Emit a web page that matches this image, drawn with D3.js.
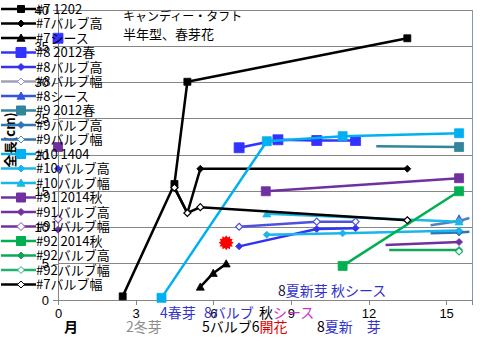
<!DOCTYPE html>
<html><head><meta charset="utf-8">
<script src="https://cdn.jsdelivr.net/npm/d3@7"></script>
<style>body{margin:0;background:#fff}svg{display:block}text{font-family:"Noto Sans CJK JP","Noto Sans",sans-serif}</style>
</head><body><svg id="c" width="491" height="341"></svg>
<script>
// ---- data ----
const xTicks = [0,3,6,9,12,15];
const yTicks = [0,5,10,15,20,25,30,35,40];
const seriesNames = ["#7 1202","#7バルブ高","#7シース","#8 2012春","#8バルブ高","#8バルブ幅","#8シース","#9 2012春","#9バルブ高","#9バルブ幅","#10 1404","#10バルブ高","#10バルブ幅","#91 2014秋","#91バルブ高","#91バルブ幅","#92 2014秋","#92バルブ高","#92バルブ幅","#7バルブ幅"];
const seriesColors = ["#000000","#000000","#000000","#3333FF","#3333EE","#5050E0","#3355DD","#31859C","#2E75B6","#4F81BD","#00B0F0","#19B5EC","#19B8E8","#7030A0","#7030A0","#8050B0","#00B050","#10A858","#20B070","#000000"];
const legendLineColors = ["#000000","#000000","#000000","#3333FF","#3333EE","#A0A0B8","#3355DD","#31859C","#2E75B6","#2E75B6","#00B0F0","#19B5EC","#19B8E8","#7030A0","#7030A0","#7030A0","#00B050","#10A858","#20B070","#000000"];
const seriesMarkers = ["square","diamond","triangle","square","diamond","hollow","triangle","square","diamond","hollow","square","diamond","triangle","square","diamond","hollow","square","diamond","hollow","hollow"];
const markerSizes = [7,7,8,10,7,7,8,9,7,7,9,7,8,9,7,8,9,7,7,7];
// points: [month, length(cm), showMarker]; null = gap
const s7_1202 = [[2.5,0.5],[4.5,16],[5,30.1],[13.5,36.1]];
const s7_bulbH = [[4.5,15.5],[5,12],[5.5,18.1],[13.5,18.1]];
const s7_sheath = [[5.5,1.8],[6,3.7],[6.5,5]];
const s8_2012 = [[0,36.1],null,[7,21],[8.5,22.1],[10,22],[11.5,22]];
const s8_bulbH = [[0,18.1],null,[7,7.4],[10,9.8],[11.5,9.9]];
const s8_bulbW = [[7,10.1],[10,10.8],[11.5,10.8]];
const s8_sheath = [[15.5,11.2]];
const s9_2012 = [[12.3,21.2,false],[15.5,21.1]];
const s9_bulbH = [[14.4,9.2,false],[15.5,9.3],[15.9,9.4,false]];
const s9_bulbW = [[14.4,10.3,false],[15.5,10.9],[15.9,11.3,false]];
const s10_1404 = [[4,0.3],[8.07,21.9],[11,22.6],[15.5,23.0]];
const s10_bulbH = [[8.07,9.0],[11,9.2],[15.5,9.6]];
const s10_bulbW = [[8.07,11.9],[15.5,10.8]];
const s91_2014 = [[0,21.1],null,[8.03,15],[15.5,16.8]];
const s91_bulbH = [[0,9.7],null,[12.66,7.6,false],[15.5,8.0]];
const s91_bulbW = [[0,11.2]];
const s92_2014 = [[11,4.7],[15.5,15.0]];
const s92_bulbH = [[12.8,6.9,false],[15.5,6.9]];
const s92_bulbW = [[15.5,6.7]];
const s7_bulbW = [[4.5,15.5],[5,12],[5.5,12.8],[13.5,11]];
const seriesData = [s7_1202,s7_bulbH,s7_sheath,s8_2012,s8_bulbH,s8_bulbW,s8_sheath,s9_2012,s9_bulbH,s9_bulbW,s10_1404,s10_bulbH,s10_bulbW,s91_2014,s91_bulbH,s91_bulbW,s92_2014,s92_bulbH,s92_bulbW,s7_bulbW];
const flowering = [[6.5,7.9]];
const titleLines = ["キャンディー・タフト","半年型、春芽花"];
const yTitle = "全長(cm)";

// ---- chart ----
const svg = d3.select("#c");
const x = d3.scaleLinear().domain([0,16]).range([58,472]);
const y = d3.scaleLinear().domain([0,40]).range([300,10]);

// gridlines
svg.append("g").selectAll("line").data(yTicks.filter(t=>t>0)).join("line")
  .attr("x1",x(0)).attr("x2",x(16)).attr("y1",d=>y(d)).attr("y2",d=>y(d))
  .attr("stroke","#868686").attr("stroke-width",1).attr("shape-rendering","crispEdges");
// right border
svg.append("line").attr("x1",x(16)).attr("x2",x(16)).attr("y1",y(40)).attr("y2",y(0))
  .attr("stroke","#8497B0").attr("shape-rendering","crispEdges");

const yAxis = svg.append("g").attr("transform",`translate(${x(0)},0)`)
  .call(d3.axisLeft(y).tickValues(yTicks).tickSize(5).tickPadding(4));
const xAxis = svg.append("g").attr("transform",`translate(0,${y(0)})`)
  .call(d3.axisBottom(x).tickValues(xTicks).tickSize(5).tickPadding(4));
[yAxis,xAxis].forEach(a=>{
  a.selectAll("path,line").attr("stroke","#868686").attr("shape-rendering","crispEdges");
  a.selectAll("text").attr("font-size",13).attr("fill","#000").style("font-family","'Liberation Sans',Arial,sans-serif");
});

function markerPath(type,size){
  const s=size/2;
  if(type==="square") return `M${-s},${-s}H${s}V${s}H${-s}Z`;
  if(type==="triangle") return `M0,${-s}L${s},${s*0.8}L${-s},${s*0.8}Z`;
  return `M0,${-s}L${s},0L0,${s}L${-s},0Z`;
}
const line = d3.line().defined(d=>d!==null).x(d=>x(d[0])).y(d=>y(d[1]));
const gS = svg.append("g");
seriesData.forEach((data,i)=>{
  const col = seriesColors[i];
  gS.append("path").datum(data).attr("d",line).attr("fill","none")
    .attr("stroke",col).attr("stroke-width",2.5).attr("stroke-linejoin","round");
  const pts = data.filter(d=>d!==null && d[2]!==false);
  gS.append("g").selectAll("path").data(pts).join("path")
    .attr("transform",d=>`translate(${x(d[0])},${y(d[1])})`)
    .attr("d",markerPath(seriesMarkers[i],markerSizes[i]))
    .attr("fill",seriesMarkers[i]==="hollow"?"#fff":col)
    .attr("stroke",col).attr("stroke-width",seriesMarkers[i]==="hollow"?1.2:0.8);
});

// flowering mark
const star = d3.range(24).map(k=>{const r=k%2?5.5:7.5,a=k*Math.PI/12;return [r*Math.sin(a),-r*Math.cos(a)];});
svg.append("g").selectAll("path").data(flowering).join("path")
  .attr("transform",d=>`translate(${x(d[0])},${y(d[1])})`)
  .attr("d","M"+star.join("L")+"Z").attr("fill","#FF0000");

// title
svg.append("text").attr("x",123).attr("y",21).attr("font-size",12).attr("fill","#000").text(titleLines[0]);
svg.append("text").attr("x",123).attr("y",39).attr("font-size",13).attr("fill","#000").text(titleLines[1]);

// y title
svg.append("text").attr("transform","translate(15,140) rotate(-90)").attr("text-anchor","middle")
  .attr("font-size",13).attr("font-weight","bold").attr("fill","#000").text(yTitle);

// annotations
function ann(xp,yp,parts,size,bold){
  const t=svg.append("text").attr("x",xp).attr("y",yp).attr("font-size",size||14);
  if(bold) t.attr("font-weight","bold");
  parts.forEach(p=>t.append("tspan").attr("fill",p[1]).text(p[0]));
}
ann(278,296,[["8","#202040"],["夏新芽 秋シース","#3333CC"]]);
ann(160,318,[["4春芽","#3333CC"]]);
ann(204,318,[["8バルブ","#3333CC"]]);
ann(259,318,[["秋","#000"],["シース","#CC33CC"]]);
ann(64,332,[["月","#000"]],14,true);
ann(126,332,[["2冬芽","#8C8C8C"]]);
ann(202,332,[["5バルブ","#000"],["6","#000"],["開花","#E00000"]]);
ann(317,332,[["8","#000"],["夏新　芽","#3333CC"]]);

// legend
const lg = svg.append("g");
seriesNames.forEach((name,i)=>{
  const cy = 9 + 14.5*i;
  const col = seriesColors[i];
  lg.append("line").attr("x1",1).attr("x2",36).attr("y1",cy).attr("y2",cy)
    .attr("stroke",legendLineColors[i]).attr("stroke-width",2.5);
  lg.append("path").attr("transform",`translate(21,${cy})`)
    .attr("d",markerPath(seriesMarkers[i],markerSizes[i]))
    .attr("fill",seriesMarkers[i]==="hollow"?"#fff":col)
    .attr("stroke",seriesMarkers[i]==="hollow"?(i===5?"#9090E0":col):col).attr("stroke-width",1);
  lg.append("text").attr("x",36).attr("y",cy).attr("dy","0.36em").attr("font-size",13)
    .attr("fill","#000").text(name);
});
</script></body></html>
